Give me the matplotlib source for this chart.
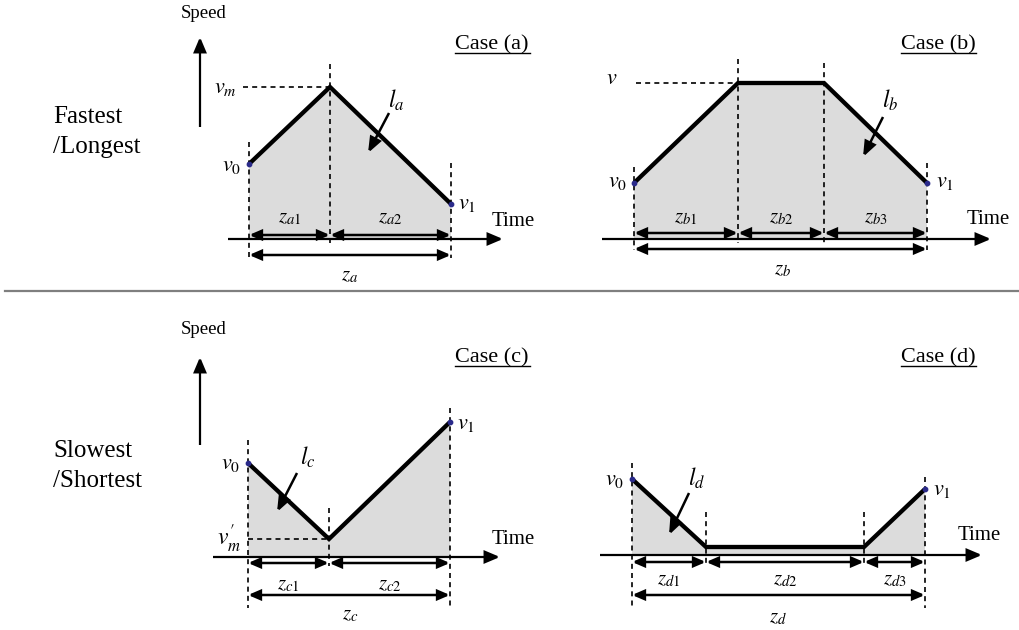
import matplotlib
matplotlib.use("Agg")
import matplotlib.pyplot as plt
from matplotlib.patches import FancyArrowPatch, Polygon

plt.rcParams['font.family'] = ['Liberation Serif', 'DejaVu Serif']
plt.rcParams['mathtext.fontset'] = 'stix'

# ---- data: speed profiles (time offset, speed height) per case, in diagram units ----
case_a_time = [0, 81, 202]
case_a_speed = [75, 152, 35]
case_b_time = [0, 104, 190, 293]
case_b_speed = [56, 156, 156, 56]
case_c_time = [0, 81, 202]
case_c_speed = [94, 18, 135]
case_d_time = [0, 74, 232, 293]
case_d_speed = [76, 8, 8, 66]

case_titles = ["Case (a)", "Case (b)", "Case (c)", "Case (d)"]
row_labels = [["Fastest", "/Longest"], ["Slowest", "/Shortest"]]
seg_labels_a = [r"$z_{a1}$", r"$z_{a2}$"]
seg_labels_b = [r"$z_{b1}$", r"$z_{b2}$", r"$z_{b3}$"]
seg_labels_c = [r"$z_{c1}$", r"$z_{c2}$"]
seg_labels_d = [r"$z_{d1}$", r"$z_{d2}$", r"$z_{d3}$"]

W, H = 1019, 630
fig = plt.figure(figsize=(W / 100, H / 100), dpi=100)
ax = fig.add_axes([0, 0, 1, 1])
ax.set_xlim(0, W)
ax.set_ylim(H, 0)
ax.axis('off')

FILL = '#dcdcdc'
DOT = '#2a2a8a'
DASH = (0, (3, 2.5))


def arrow(p0, p1, lw=1.6, hl=9, hw=4, style='-|>'):
    a = FancyArrowPatch(p0, p1, arrowstyle=f'{style},head_length={hl},head_width={hw}',
                        mutation_scale=1, lw=lw, color='black', shrinkA=0, shrinkB=0,
                        joinstyle='miter', capstyle='butt')
    ax.add_patch(a)


def vdash(x, y0, y1):
    ax.plot([x, x], [y0, y1], color='black', lw=1.2, ls=DASH)


def hdash(y, x0, x1):
    ax.plot([x0, x1], [y, y], color='black', lw=1.2, ls=DASH)


def panel(x0, ay, times, speeds, axis_x, dash_ext, mid_top, dim_y, tot_y,
          seg_labels, seg_label_y, tot_label, tot_label_xy):
    xs = [x0 + t for t in times]
    ys = [ay - v for v in speeds]
    # shaded area under the speed profile
    poly = Polygon([(xs[0], ay)] + list(zip(xs, ys)) + [(xs[-1], ay)],
                   closed=True, facecolor=FILL, edgecolor='none', zorder=1)
    ax.add_patch(poly)
    # time axis
    arrow((axis_x[0], ay), (axis_x[1], ay), lw=1.6, hl=9, hw=3.8)
    # dashed verticals at ends
    vdash(xs[0], ys[0] - dash_ext[0], dash_ext[2])
    vdash(xs[-1], ys[-1] - dash_ext[1], dash_ext[2])
    # dashed verticals at interior breakpoints
    for x, top in zip(xs[1:-1], mid_top):
        vdash(x, top, ay + 4 if dim_y < ay else dim_y + 3)
    # profile
    ax.plot(xs, ys, color='black', lw=3.1, solid_joinstyle='miter', solid_capstyle='butt', zorder=4)
    ax.scatter([xs[0], xs[-1]], [ys[0], ys[-1]], s=10, color=DOT, zorder=5)
    # dimension arrows
    for i in range(len(xs) - 1):
        arrow((xs[i], dim_y), (xs[i + 1], dim_y), lw=1.8, hl=7, hw=3, style='<|-|>')
        ax.text((xs[i] + xs[i + 1]) / 2, seg_label_y, seg_labels[i], fontsize=15,
                ha='center', va='center')
    arrow((xs[0], tot_y), (xs[-1], tot_y), lw=1.8, hl=7, hw=3, style='<|-|>')
    ax.text(tot_label_xy[0], tot_label_xy[1], tot_label, fontsize=15, ha='center', va='center')
    return xs, ys


# ---------------- Case (a) ----------------
xa, ya = panel(249, 239, case_a_time, case_a_speed, (228, 503), (22, 41, 258), [64],
               235, 255, seg_labels_a, 218, r"$z_a$", (350, 276))
hdash(ya[1], 243, xa[1])
ax.text(237, 88, r"$v_m$", fontsize=16, ha='right', va='center')
ax.text(241, 166, r"$v_0$", fontsize=16, ha='right', va='center')
ax.text(458, 205, r"$v_1$", fontsize=16, ha='left', va='center')
ax.text(396, 100, r"$l_a$", fontsize=17, ha='center', va='center')
arrow((389, 113), (368, 153), lw=1.8, hl=9, hw=3.5)
ax.text(492, 222, "Time", fontsize=15, ha='left', va='center')

# ---------------- Case (b) ----------------
xb, yb = panel(634, 239, case_b_time, case_b_speed, (602, 991), (16, 20, 250), [59, 63],
               233, 249, seg_labels_b, 218, r"$z_b$", (783, 270))
hdash(yb[1], 636, xb[1])
ax.text(612, 80, r"$v$", fontsize=16, ha='center', va='center')
ax.text(627, 183, r"$v_0$", fontsize=16, ha='right', va='center')
ax.text(936, 182, r"$v_1$", fontsize=16, ha='left', va='center')
ax.text(890, 100, r"$l_b$", fontsize=17, ha='center', va='center')
arrow((883, 117), (863, 157), lw=1.8, hl=9, hw=3.5)
ax.text(967, 220, "Time", fontsize=15, ha='left', va='center')

# ---------------- Case (c) ----------------
xc, yc = panel(248, 557, case_c_time, case_c_speed, (213, 500), (23, 14, 608), [508],
               563, 595, seg_labels_c, 585, r"$z_c$", (350, 615))
hdash(yc[1], xc[0], xc[1])
ax.text(240, 465, r"$v_0$", fontsize=16, ha='right', va='center')
ax.text(457, 424, r"$v_1$", fontsize=16, ha='left', va='center')
ax.text(241, 539, r"$v^{\prime}_{m}$", fontsize=17, ha='right', va='center')
ax.text(308, 457, r"$l_c$", fontsize=17, ha='center', va='center')
arrow((297, 473), (277, 512), lw=1.8, hl=9, hw=3.5)
ax.text(492, 540, "Time", fontsize=15, ha='left', va='center')

# ---------------- Case (d) ----------------
xd, yd = panel(632, 555, case_d_time, case_d_speed, (600, 982), (16, 12, 608), [512, 512],
               562, 595, seg_labels_d, 580, r"$z_d$", (778, 618))
ax.text(624, 480, r"$v_0$", fontsize=16, ha='right', va='center')
ax.text(933, 491, r"$v_1$", fontsize=16, ha='left', va='center')
ax.text(697, 478, r"$l_d$", fontsize=17, ha='center', va='center')
arrow((689, 493), (669, 535), lw=1.8, hl=9, hw=3.5)
ax.text(958, 536, "Time", fontsize=15, ha='left', va='center')

# ---------------- Speed axes & captions ----------------
for y_top, y_bot, y_lab in [(37, 127, 13), (357, 445, 330)]:
    arrow((200, y_bot), (200, y_top), lw=1.6, hl=9, hw=3.8)
    ax.text(181, y_lab, "Speed", fontsize=13.5, ha='left', va='center')

for (x, y), title in zip([(455, 49), (901, 49), (455, 362), (901, 362)], case_titles):
    ax.text(x, y, title, fontsize=16, ha='left', va='baseline')
    ax.plot([x, x + 75], [y + 4, y + 4], color='black', lw=1.0)

for lines, (y1, y2) in zip(row_labels, [(123, 153), (457, 487)]):
    ax.text(53, y1, lines[0], fontsize=18, ha='left', va='baseline')
    ax.text(53, y2, lines[1], fontsize=18, ha='left', va='baseline')

# separator
ax.plot([5, W], [291, 291], color='#7f7f7f', lw=1.6)

fig.savefig('out.png', dpi=100)
